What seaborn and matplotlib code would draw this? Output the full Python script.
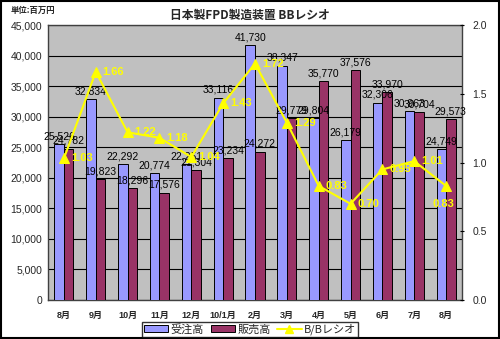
import matplotlib
matplotlib.use("Agg")
import matplotlib.pyplot as plt
import matplotlib.ticker as mticker
from matplotlib.patches import Patch, Rectangle
from matplotlib.lines import Line2D
import seaborn as sns
import pandas as pd
import numpy as np

months = ["8月", "9月", "10月", "11月", "12月", "10/1月", "2月", "3月", "4月", "5月", "6月", "7月", "8月"]
orders = [25526, 32834, 22292, 20774, 22251, 33116, 41730, 38347, 29804, 26179, 32306, 30963, 24749]
sales = [24782, 19823, 18296, 17576, 21304, 23234, 24272, 29779, 35770, 37576, 33970, 30704, 29573]
bb_ratio = [1.03, 1.66, 1.22, 1.18, 1.04, 1.43, 1.72, 1.29, 0.83, 0.70, 0.95, 1.01, 0.83]

series_names = ["受注高", "販売高", "B/Bレシオ"]
bar_colors = {"受注高": "#9999FF", "販売高": "#993366"}
line_color = "#FFFF00"

sns.set_style("white")
plt.rcParams["font.family"] = ["Liberation Sans", "Noto Sans CJK JP", "DejaVu Sans"]

n = len(months)
idx = list(range(n))
df = pd.DataFrame({
    "idx": idx * 2,
    "series": [series_names[0]] * n + [series_names[1]] * n,
    "value": orders + sales,
})

fig = plt.figure(figsize=(5.0, 3.39), dpi=100)
fig.patch.set_facecolor("white")
ax = fig.add_axes([0.096, 0.115, 0.828, 0.811])
ax.set_facecolor("#C0C0C0")

sns.barplot(data=df, x="idx", y="value", hue="series", order=idx,
            hue_order=series_names[:2], palette=bar_colors, width=0.6,
            edgecolor="black", linewidth=0.7, saturation=1, ax=ax, legend=False, zorder=3)

ax.set_xlim(-0.5, n - 0.5)
ax.set_ylim(0, 45000)
ax.set_yticks(np.arange(0, 45001, 5000))
ax.yaxis.set_major_formatter(mticker.FuncFormatter(lambda v, p: f"{int(v):,}"))
ax.yaxis.grid(True, color="black", linewidth=0.8, zorder=0)
ax.set_axisbelow(True)
ax.set_xticks(idx)
ax.set_xticklabels(months, fontsize=6.5, fontweight="bold")
ax.set_xlabel("")
ax.set_ylabel("")
ax.tick_params(axis="y", labelsize=7.5, length=0, pad=4)
ax.tick_params(axis="x", length=0, pad=8)
ax.set_xticks(np.arange(-0.5, n, 1.0), minor=True)
ax.tick_params(axis="x", which="minor", length=3, direction="in", color="black")
for s in ax.spines.values():
    s.set_visible(True)
    s.set_color("#404040")
    s.set_linewidth(1.0)

# bar value labels
for cont in ax.containers:
    ax.bar_label(cont, labels=[f"{int(v):,}" for v in cont.datavalues],
                 fontsize=7.5, padding=2, color="black")

# ratio line on secondary axis
ax2 = ax.twinx()
ax2.set_ylim(0, 2.0)
sns.lineplot(x=idx, y=bb_ratio, ax=ax2, color=line_color, linewidth=1.5,
             marker="^", markersize=7, markeredgecolor=line_color, zorder=5)
ax2.set_yticks([0.0, 0.5, 1.0, 1.5, 2.0])
ax2.yaxis.set_major_formatter(mticker.FormatStrFormatter("%.1f"))
ax2.tick_params(axis="y", labelsize=7.5, length=3, direction="inout", pad=6, color="black")
for s in ax2.spines.values():
    s.set_visible(False)

for i, r in enumerate(bb_ratio):
    if i == n - 1:
        ax2.annotate(f"{r:.2f}", (i, r), xytext=(-2, -13), textcoords="offset points",
                     ha="center", va="center", color=line_color, fontsize=8, fontweight="bold")
    else:
        ax2.annotate(f"{r:.2f}", (i, r), xytext=(5, 0), textcoords="offset points",
                     ha="left", va="center", color=line_color, fontsize=8, fontweight="bold")

# title and unit
fig.text(0.5, 0.955, "日本製FPD製造装置 BBレシオ", ha="center", va="center",
         fontsize=8.5, fontweight="bold", family=["Noto Sans CJK JP", "DejaVu Sans"])
fig.text(0.022, 0.97, "単位:百万円", ha="left", va="center", fontsize=6,
         fontweight="bold", family=["Noto Sans CJK JP", "DejaVu Sans"])

# legend
handles = [
    Patch(facecolor=bar_colors["受注高"], edgecolor="black", linewidth=0.7),
    Patch(facecolor=bar_colors["販売高"], edgecolor="black", linewidth=0.7),
    Line2D([0], [0], color=line_color, linewidth=1.5, marker="^", markersize=6),
]
leg = fig.legend(handles, series_names, loc="lower center", bbox_to_anchor=(0.5, 0.0),
                 ncol=3, frameon=True, fancybox=False, fontsize=8, handlelength=2.2,
                 handleheight=0.6, handletextpad=0.2, columnspacing=0.6,
                 borderpad=0.15, borderaxespad=0.2,
                 prop={"family": ["Noto Sans CJK JP", "DejaVu Sans"], "size": 8})
leg.get_frame().set_edgecolor("black")
leg.get_frame().set_linewidth(1.0)

# outer border
fig.patches.append(Rectangle((0.002, 0.003), 0.996, 0.994, transform=fig.transFigure,
                             fill=False, edgecolor="black", linewidth=1.5))

fig.savefig("out.png", dpi=100)
